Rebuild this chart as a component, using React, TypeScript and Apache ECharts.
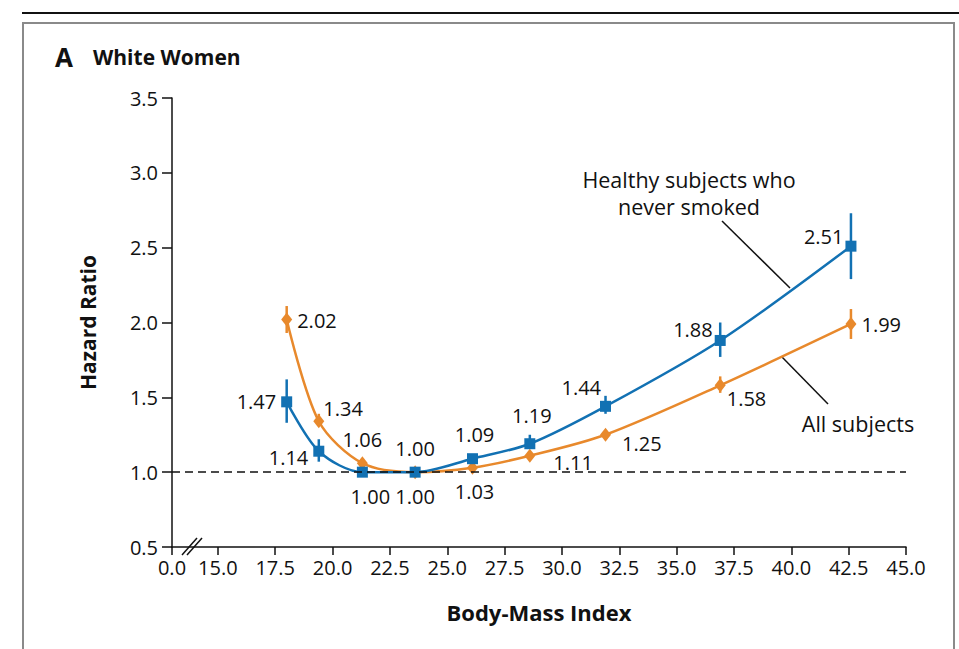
import React, { useEffect, useRef } from "react";
import * as echarts from "echarts";

// BMI category midpoints (x) shared by both series
const bmi = [18.0, 19.4, 21.3, 23.6, 26.1, 28.6, 31.9, 36.9, 42.6];

// Healthy subjects who never smoked
const healthyHR = [1.47, 1.14, 1.0, 1.0, 1.09, 1.19, 1.44, 1.88, 2.51];
const healthyLow = [1.33, 1.07, 0.98, 1.0, 1.06, 1.16, 1.39, 1.77, 2.29];
const healthyHigh = [1.62, 1.22, 1.03, 1.0, 1.12, 1.25, 1.51, 2.0, 2.73];

// All subjects
const allHR = [2.02, 1.34, 1.06, 1.0, 1.03, 1.11, 1.25, 1.58, 1.99];
const allLow = [1.93, 1.31, 1.04, 1.0, 1.02, 1.09, 1.23, 1.53, 1.89];
const allHigh = [2.11, 1.39, 1.08, 1.0, 1.04, 1.13, 1.27, 1.64, 2.09];

// Axis ticks
const xMin = 13; // shown as "0.0" (broken axis)
const xTicks = [13, 15, 17.5, 20, 22.5, 25, 27.5, 30, 32.5, 35, 37.5, 40, 42.5, 45];

const BLUE = "#1271b3";
const ORANGE = "#e8892c";
const FONT = "Open Sans";

type Place = { position: string; offset: [number, number] };
const healthyPlace: Place[] = [
  { position: "left", offset: [0, 0] },
  { position: "left", offset: [0, 6] },
  { position: "bottom", offset: [8, 4] },
  { position: "bottom", offset: [0, 4] },
  { position: "top", offset: [2, -4] },
  { position: "top", offset: [2, -8] },
  { position: "left", offset: [6, -19] },
  { position: "left", offset: [3, -11] },
  { position: "left", offset: [3, -10] },
];
const allPlace: Place[] = [
  { position: "right", offset: [0, 1] },
  { position: "right", offset: [-6, -13] },
  { position: "top", offset: [0, -2] },
  { position: "top", offset: [0, -2] },
  { position: "bottom", offset: [2, 2] },
  { position: "right", offset: [13, 7] },
  { position: "right", offset: [6, 9] },
  { position: "right", offset: [-4, 13] },
  { position: "right", offset: [0, 1] },
];

function errorSeries(low: number[], high: number[], color: string) {
  return {
    type: "custom",
    z: 3,
    silent: true,
    data: bmi.map((x, i) => [x, low[i], high[i]]),
    renderItem: (_p: any, api: any) => {
      const a = api.coord([api.value(0), api.value(1)]);
      const b = api.coord([api.value(0), api.value(2)]);
      return {
        type: "line",
        shape: { x1: a[0], y1: a[1], x2: b[0], y2: b[1] },
        style: { stroke: color, lineWidth: 2.5 },
      };
    },
  };
}

function lineSeries(name: string, vals: number[], color: string, symbol: string, size: any, place: Place[]) {
  return {
    type: "line",
    name,
    z: 4,
    smooth: 0.3,
    symbol,
    symbolSize: size,
    showAllSymbol: true,
    itemStyle: { color },
    lineStyle: { color, width: 2.5 },
    data: bmi.map((x, i) => ({
      value: [x, vals[i]],
      label: { show: true, position: place[i].position, offset: place[i].offset },
    })),
    label: {
      show: true,
      color: "#111",
      fontFamily: FONT,
      fontSize: 20,
      distance: 5,
      formatter: (p: any) => p.value[1].toFixed(2),
    },
  };
}

export default function App() {
  const ref = useRef<HTMLDivElement>(null);
  useEffect(() => {
    if (!ref.current) return;
    const chart = echarts.init(ref.current, undefined, { renderer: "svg" });
    chart.setOption({
      animation: false,
      backgroundColor: "#fff",
      grid: { left: 172, right: 53, top: 98, bottom: 102, containLabel: false },
      xAxis: {
        type: "value",
        min: xMin,
        max: 45,
        name: "Body-Mass Index",
        nameLocation: "middle",
        nameGap: 54,
        nameTextStyle: { fontFamily: FONT, fontWeight: "bold", fontSize: 22, color: "#111" },
        axisLine: { lineStyle: { color: "#111", width: 1.5 } },
        axisTick: { customValues: xTicks, length: 8, lineStyle: { color: "#111", width: 1.5 } },
        axisLabel: {
          customValues: xTicks,
          margin: 10,
          fontFamily: FONT,
          fontSize: 20,
          color: "#111",
          formatter: (v: number) => (v === xMin ? "0.0" : v.toFixed(1)),
        },
        splitLine: { show: false },
      },
      yAxis: {
        type: "value",
        min: 0.5,
        max: 3.5,
        interval: 0.5,
        name: "Hazard Ratio",
        nameLocation: "middle",
        nameGap: 74,
        nameRotate: 90,
        nameTextStyle: { fontFamily: FONT, fontWeight: "bold", fontSize: 21, color: "#111" },
        axisLine: { show: true, lineStyle: { color: "#111", width: 1.5 } },
        axisTick: { show: true, length: 10, lineStyle: { color: "#111", width: 1.5 } },
        axisLabel: {
          margin: 14,
          fontFamily: FONT,
          fontSize: 20,
          color: "#111",
          formatter: (v: number) => v.toFixed(1),
        },
        splitLine: { show: false },
      },
      series: [
        {
          type: "line",
          data: [],
          silent: true,
          markLine: {
            silent: true,
            symbol: "none",
            label: { show: false },
            lineStyle: { color: "#111", type: [8, 5], width: 1.5 },
            data: [{ yAxis: 1.0 }],
          },
        },
        errorSeries(allLow, allHigh, ORANGE),
        errorSeries(healthyLow, healthyHigh, BLUE),
        lineSeries("All subjects", allHR, ORANGE, "diamond", [11, 14], allPlace),
        lineSeries("Healthy subjects who never smoked", healthyHR, BLUE, "rect", 11, healthyPlace),
      ],
      graphic: [
        { type: "line", shape: { x1: 22, y1: 13, x2: 959, y2: 13 }, style: { stroke: "#111", lineWidth: 2 } },
        { type: "rect", shape: { x: 23, y: 23, width: 931, height: 640 }, style: { fill: "none", stroke: "#8a8a8a", lineWidth: 2 } },
        { type: "text", left: 55, top: 44, style: { text: "A", font: `bold 26px '${FONT}'`, fill: "#111" } },
        { type: "text", left: 93, top: 46, style: { text: "White Women", font: `bold 21px '${FONT}'`, fill: "#111" } },
        { type: "line", shape: { x1: 182, y1: 555, x2: 197, y2: 538 }, style: { stroke: "#111", lineWidth: 1.5 } },
        { type: "line", shape: { x1: 187, y1: 555, x2: 202, y2: 538 }, style: { stroke: "#111", lineWidth: 1.5 } },
        {
          type: "text",
          x: 689,
          y: 193,
          style: {
            text: "Healthy subjects who\nnever smoked",
            font: `21.5px '${FONT}'`,
            fill: "#111",
            align: "center",
            verticalAlign: "middle",
            lineHeight: 27,
          },
        },
        { type: "line", shape: { x1: 722, y1: 221, x2: 790, y2: 288 }, style: { stroke: "#111", lineWidth: 1.5 } },
        {
          type: "text",
          x: 858,
          y: 423,
          style: { text: "All subjects", font: `21.5px '${FONT}'`, fill: "#111", align: "center", verticalAlign: "middle" },
        },
        { type: "line", shape: { x1: 782, y1: 357, x2: 828, y2: 404 }, style: { stroke: "#111", lineWidth: 1.5 } },
      ],
    });
    return () => chart.dispose();
  }, []);
  return <div ref={ref} style={{ position: "fixed", left: 0, top: 0, width: 959, height: 649 }} />;
}
